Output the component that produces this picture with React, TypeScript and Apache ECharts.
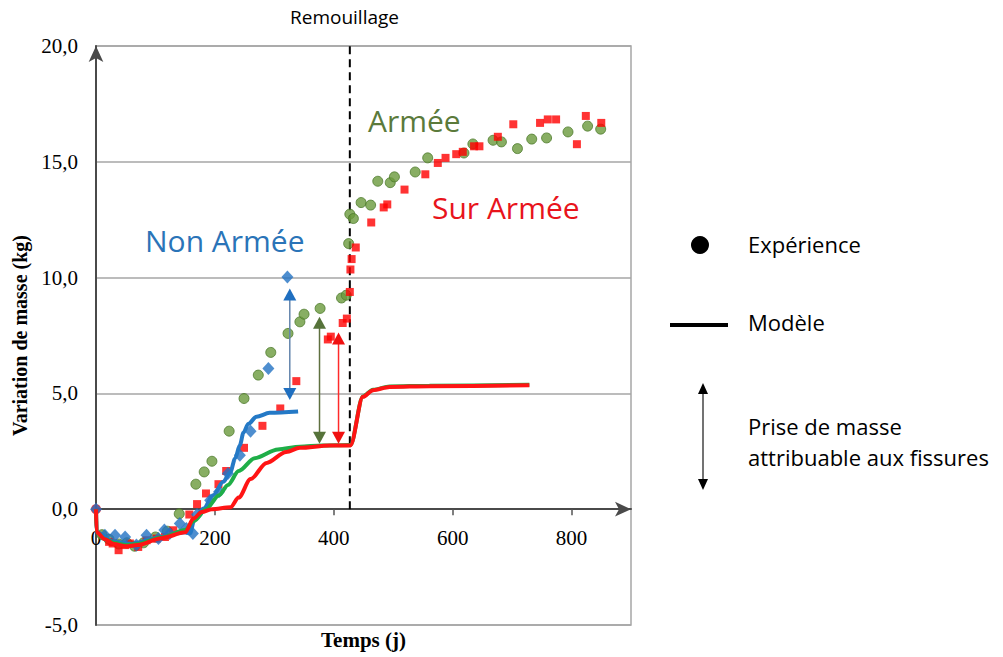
import React, { useEffect, useRef } from "react";
import * as echarts from "echarts";

// ---- Data (days, kg) ----
const xTickLabels = ["0", "200", "400", "600", "800"];
const remouillageDay = 427;

const armeeExp: number[][] = [
  [10, -1.1], [22, -1.3], [38, -1.5], [52, -1.45], [65, -1.6], [80, -1.45], [100, -1.2], [120, -0.95],
  [140, -0.2], [168, 1.08], [182, 1.61], [195, 2.07], [224, 3.37], [249, 4.78], [273, 5.79], [294, 6.77],
  [323, 7.59], [343, 8.09], [350, 8.42], [377, 8.67], [413, 9.12], [421, 9.24], [425, 11.47], [427, 12.74],
  [433, 12.55], [446, 13.24], [462, 13.13], [474, 14.16], [495, 14.1], [502, 14.35], [537, 14.56],
  [558, 15.17], [619, 15.38], [634, 15.77], [668, 15.93], [682, 15.86], [709, 15.57], [733, 15.98],
  [758, 16.03], [794, 16.29], [827, 16.54], [849, 16.41],
];

const surArmeeExp: number[][] = [
  [0, 0], [22, -1.41], [28, -1.48], [38, -1.77], [49, -1.55], [57, -1.48], [71, -1.63], [85, -1.34],
  [102, -1.27], [116, -1.2], [130, -0.91], [157, -0.23], [170, 0.22], [185, 0.68], [206, 1.08],
  [219, 1.65], [249, 2.65], [280, 3.6], [310, 4.35], [337, 5.53], [390, 7.33], [395, 7.45], [415, 8.04],
  [422, 8.23], [427, 9.38], [428, 10.35], [430, 10.8], [437, 11.3], [463, 12.38], [484, 13.03],
  [490, 13.16], [519, 13.8], [554, 14.46], [575, 14.95], [588, 15.17], [606, 15.33], [617, 15.43],
  [636, 15.67], [645, 15.67], [676, 16.08], [702, 16.62], [747, 16.68], [760, 16.83], [774, 16.83],
  [809, 15.76], [824, 16.98], [850, 16.68],
];

const nonArmeeExp: number[][] = [
  [0, 0], [15, -1.12], [32, -1.12], [49, -1.2], [68, -1.55], [85, -1.12], [105, -1.27], [115, -0.9],
  [124, -1.05], [141, -0.62], [152, -0.83], [163, -1.05], [170, -0.23], [192, 0.39], [207, 0.75],
  [222, 1.54], [242, 2.33], [260, 3.37], [290, 6.07], [322, 10.03],
];

const nonArmeeModel: number[][] = [
  [0, 0], [1, -1.0], [30, -1.4], [60, -1.5], [100, -1.25], [150, -1.0], [158, -1.05], [166, -0.4],
  [181, 0.03], [197, 0.6], [214, 1.18], [226, 1.6], [234, 2.19], [242, 2.76], [248, 3.3], [256, 3.68],
  [270, 3.99], [292, 4.16], [340, 4.22],
];

const armeeModel: number[][] = [
  [0, 0], [1, -1.0], [15, -1.3], [30, -1.45], [50, -1.55], [70, -1.5], [110, -1.22], [150, -0.9],
  [165, -0.5], [185, 0.0], [207, 0.6], [222, 1.05], [240, 1.65], [267, 2.2], [306, 2.58],
  [343, 2.7], [380, 2.75], [428, 2.77], [449, 4.87], [466, 5.16], [494, 5.3], [561, 5.33], [729, 5.37],
];

const surArmeeModel: number[][] = [
  [0, 0], [1, -1.0], [15, -1.3], [30, -1.5], [50, -1.6], [70, -1.55], [110, -1.25], [150, -1.0],
  [164, -0.4], [178, -0.12], [195, 0.0], [226, 0.08], [240, 0.5], [260, 1.3], [287, 2.0], [320, 2.47],
  [343, 2.65], [393, 2.75], [428, 2.75], [449, 4.85], [466, 5.14], [494, 5.28], [561, 5.31], [729, 5.35],
];

// gap arrows: [day, top, bottom]
const gapNonArmee = [326, 9.27, 4.97];
const gapArmee = [376, 8.05, 3.09];
const gapSurArmee = [408, 7.37, 3.09];

const fmt = (v: number) => v.toFixed(1).replace(".", ",");

function arrowSeries(g: number[], head: string, shaft: string) {
  return {
    type: "line",
    data: [
      { value: [g[0], g[1]], symbol: "triangle" },
      { value: [g[0], g[2]], symbol: "triangle", symbolRotate: 180 },
    ],
    symbolSize: [13, 12],
    showSymbol: true,
    itemStyle: { color: head },
    lineStyle: { color: shaft, width: 1.5 },
    z: 5,
    silent: true,
  };
}

export default function App() {
  const ref = useRef<HTMLDivElement>(null);
  useEffect(() => {
    if (!ref.current) return;
    const chart = echarts.init(ref.current, null, { renderer: "svg" });
    const sans = "Open Sans";
    const serif = "Liberation Serif";
    const plotH = 657 - 46 - 32;
    chart.setOption({
      animation: false,
      backgroundColor: "#ffffff",
      grid: {
        left: 96, right: 372, top: 46, bottom: 32,
        outerBoundsMode: "none", containLabel: false,
        show: true, borderColor: "#a6a6a6", borderWidth: 1.5,
      },
      xAxis: {
        type: "value",
        min: 0,
        max: 900,
        interval: 200,
        offset: -plotH / 5,
        name: "Temps (j)",
        nameLocation: "middle",
        nameGap: 120,
        nameTextStyle: { fontFamily: serif, fontWeight: "bold", fontSize: 21, color: "#000" },
        axisLine: { show: true, onZero: false, symbol: ["none", "arrow"], symbolSize: [11, 16], lineStyle: { color: "#4a4a4a", width: 2 } },
        axisTick: { show: true, length: 6, lineStyle: { color: "#555", width: 1.5 } },
        axisLabel: {
          showMaxLabel: false,
          margin: 18,
          fontFamily: serif,
          fontSize: 21,
          color: "#000",
          formatter: (v: number) => (xTickLabels.includes(String(v)) ? String(v) : ""),
        },
        splitLine: { show: false },
      },
      yAxis: {
        type: "value",
        min: -5,
        max: 20,
        interval: 5,
        name: "Variation de masse (kg)",
        nameLocation: "middle",
        nameGap: 64,
        nameRotate: 90,
        nameTextStyle: { fontFamily: serif, fontWeight: "bold", fontSize: 20, color: "#000" },
        axisLine: { show: true, onZero: false, symbol: ["none", "arrow"], symbolSize: [11, 16], lineStyle: { color: "#4a4a4a", width: 2 } },
        axisTick: { show: false },
        axisLabel: { margin: 18, fontFamily: serif, fontSize: 21, color: "#000", formatter: fmt },
        splitLine: { show: true, lineStyle: { color: "#a6a6a6", width: 1.5 } },
      },
      series: [
        {
          name: "Remouillage",
          type: "line",
          data: [[remouillageDay, 0], [remouillageDay, 20]],
          showSymbol: false,
          lineStyle: { color: "#000", width: 2, type: [8, 5] },
          z: 1,
          silent: true,
        },
        {
          name: "Armée (expérience)",
          type: "scatter",
          data: armeeExp,
          symbol: "circle",
          symbolSize: 10,
          itemStyle: { color: "#6a9a3c", borderColor: "#4e7a2c", borderWidth: 1 },
          z: 2,
        },
        {
          name: "Sur Armée (expérience)",
          type: "scatter",
          data: surArmeeExp.map((p, i) => (i === 0 ? { value: p, symbol: "circle", symbolSize: 10 } : p)),
          symbol: "rect",
          symbolSize: 8,
          itemStyle: { color: "#ff0000" },
          z: 3,
        },
        {
          name: "Non Armée (expérience)",
          type: "scatter",
          data: nonArmeeExp,
          symbol: "diamond",
          symbolSize: [12, 13],
          itemStyle: { color: "#2272c3" },
          z: 3,
        },
        {
          name: "Non Armée (modèle)",
          type: "line",
          data: nonArmeeModel,
          showSymbol: false,
          smooth: 0.3,
          smoothMonotone: "x",
          lineStyle: { color: "#2479c6", width: 4 },
          z: 4,
        },
        {
          name: "Armée (modèle)",
          type: "line",
          data: armeeModel,
          showSymbol: false,
          smooth: 0.3,
          smoothMonotone: "x",
          lineStyle: { color: "#1fae48", width: 4 },
          z: 4,
        },
        {
          name: "Sur Armée (modèle)",
          type: "line",
          data: surArmeeModel,
          showSymbol: false,
          smooth: 0.3,
          smoothMonotone: "x",
          lineStyle: { color: "#ff1414", width: 4 },
          z: 4,
        },
        arrowSeries(gapNonArmee, "#1f6fc0", "#6485ad"),
        arrowSeries(gapArmee, "#56733a", "#5f7040"),
        arrowSeries(gapSurArmee, "#f01010", "#ff2a2a"),
      ],
      graphic: [
        { type: "text", left: 290, top: 7, style: { text: "Remouillage", font: `19px "${sans}"`, fill: "#000" } },
        { type: "text", left: 145, top: 225, style: { text: "Non Armée", font: `30px "${sans}"`, fill: "#2a74b8" } },
        { type: "text", left: 368, top: 105, style: { text: "Armée", font: `30px "${sans}"`, fill: "#5b7a3b" } },
        { type: "text", left: 432, top: 192, style: { text: "Sur Armée", font: `30px "${sans}"`, fill: "#e8141c" } },
        // legend
        { type: "circle", shape: { cx: 700, cy: 245, r: 9 }, style: { fill: "#000" } },
        { type: "text", left: 748, top: 233, style: { text: "Expérience", font: `22px "${sans}"`, fill: "#000" } },
        { type: "line", shape: { x1: 670, y1: 325, x2: 728, y2: 325 }, style: { stroke: "#000", lineWidth: 4 } },
        { type: "text", left: 748, top: 311, style: { text: "Modèle", font: `22px "${sans}"`, fill: "#000" } },
        { type: "line", shape: { x1: 703, y1: 392, x2: 703, y2: 481 }, style: { stroke: "#444", lineWidth: 1.5 } },
        { type: "polygon", shape: { points: [[698, 394], [708, 394], [703, 383]] }, style: { fill: "#000" } },
        { type: "polygon", shape: { points: [[698, 479], [708, 479], [703, 490]] }, style: { fill: "#000" } },
        { type: "text", left: 748, top: 415, style: { text: "Prise de masse", font: `22px "${sans}"`, fill: "#000" } },
        { type: "text", left: 748, top: 446, style: { text: "attribuable aux fissures", font: `22px "${sans}"`, fill: "#000" } },
      ],
    });
    return () => chart.dispose();
  }, []);
  return <div ref={ref} style={{ position: "absolute", left: 0, top: 0, width: 1003, height: 657 }} />;
}
